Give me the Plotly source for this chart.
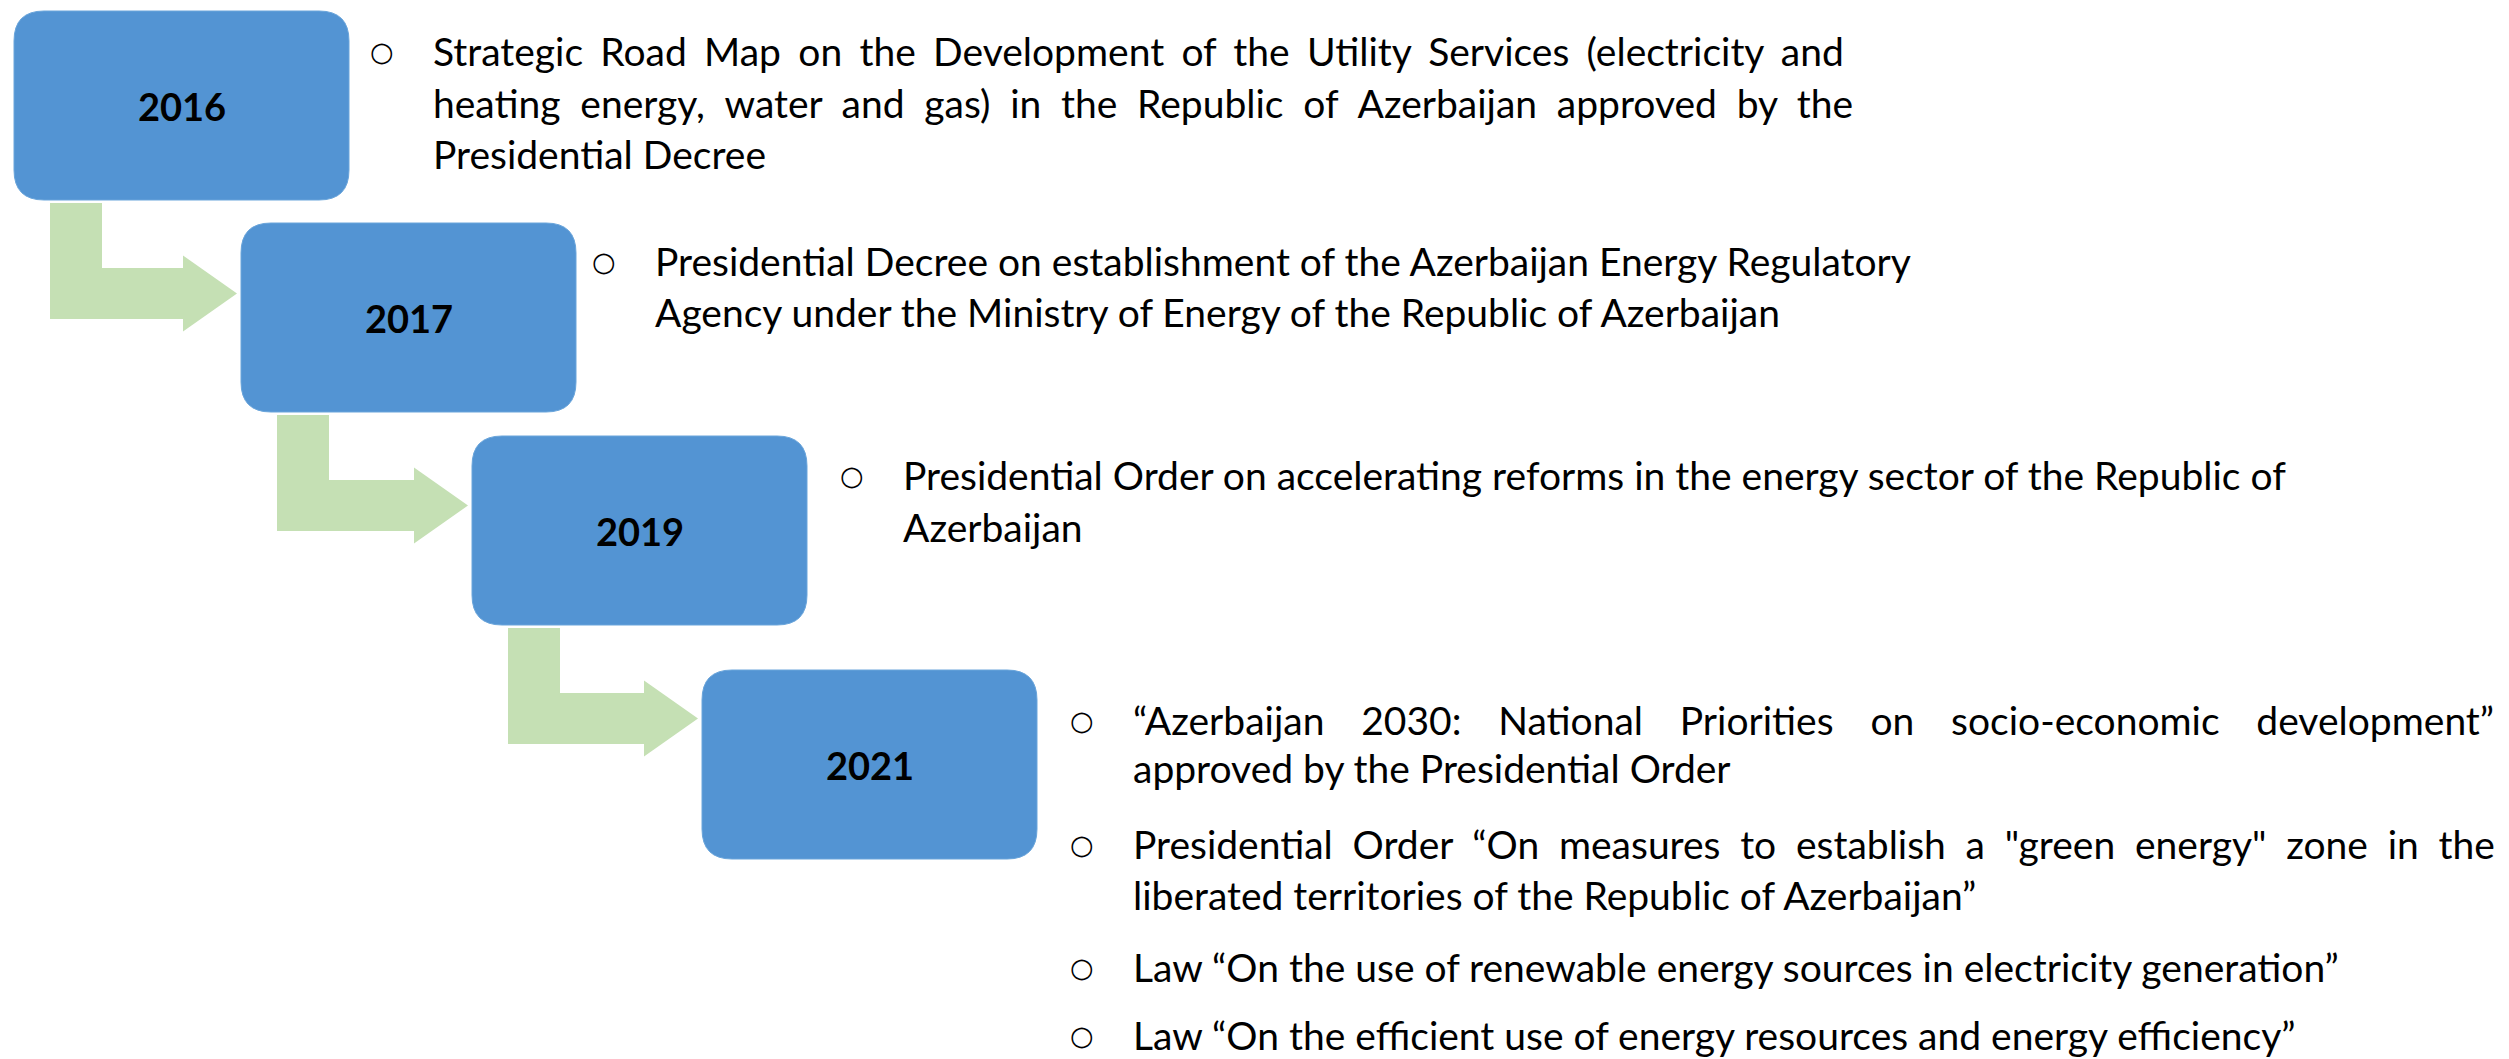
import plotly.graph_objects as go

# timeline data
years = ["2016", "2017", "2019", "2021"]

events_2016 = [
    ["Strategic Road Map on the Development of the Utility Services (electricity and",
     "heating energy, water and gas) in the Republic of Azerbaijan approved by the",
     "Presidential Decree"],
]
events_2017 = [
    ["Presidential Decree on establishment of the Azerbaijan Energy Regulatory",
     "Agency under the Ministry of Energy of the Republic of Azerbaijan"],
]
events_2019 = [
    ["Presidential Order on accelerating reforms in the energy sector of the Republic of",
     "Azerbaijan"],
]
events_2021 = [
    ["\u201cAzerbaijan 2030: National Priorities on socio-economic development\u201d",
     "approved by the Presidential Order"],
    ["Presidential Order \u201cOn measures to establish a \"green energy\" zone in the",
     "liberated territories of the Republic of Azerbaijan\u201d"],
    ["Law \u201cOn the use of renewable energy sources in electricity generation\u201d"],
    ["Law \u201cOn the efficient use of energy resources and energy efficiency\u201d"],
]
events = [events_2016, events_2017, events_2019, events_2021]

# extra spacing for the justified lines (same shape as events)
THIN, EN, HAIR = "\u2009", "\u2002", "\u200a"
justify = [
    [[THIN + HAIR, THIN + HAIR + HAIR, ""]],
    [["", ""]],
    [["", ""]],
    [[EN + THIN + HAIR, ""], [THIN + HAIR + HAIR, ""], [""], [""]],
]

# layout (pixels)
W, H = 2509, 1059
box_x0 = [14, 241, 472, 702]
box_y0 = [11, 223, 436, 670]
box_w, box_h, rad = 335, 189, 30
text_x = [432, 654, 902, 1132]
line_y = [
    [[51, 103, 154]],
    [[261, 312]],
    [[475, 527]],
    [[720, 768], [844, 895], [967], [1035]],
]

BLUE = "#5394D3"
GREEN = "#C5E0B4"
FONT = "Lato"


def rounded_rect(x0, y0, w, h, r):
    x1, y1 = x0 + w, y0 + h
    return (f"M {x0 + r},{y0} L {x1 - r},{y0} Q {x1},{y0} {x1},{y0 + r} "
            f"L {x1},{y1 - r} Q {x1},{y1} {x1 - r},{y1} L {x0 + r},{y1} "
            f"Q {x0},{y1} {x0},{y1 - r} L {x0},{y0 + r} Q {x0},{y0} {x0 + r},{y0} Z")


def elbow_arrow(sx, top, bar_top, head_x, tip, stem=52, bar=51, head=38):
    bar_bot = bar_top + bar
    mid = bar_top + bar / 2
    return (f"M {sx},{top} L {sx + stem},{top} L {sx + stem},{bar_top} "
            f"L {head_x},{bar_top} L {head_x},{mid - head} L {tip},{mid} "
            f"L {head_x},{mid + head} L {head_x},{bar_bot} L {sx},{bar_bot} Z")


fig = go.Figure()
shapes = []
annotations = []

for i, year in enumerate(years):
    x0, y0 = box_x0[i], box_y0[i]
    shapes.append(dict(type="path", path=rounded_rect(x0, y0, box_w, box_h, rad),
                       fillcolor=BLUE, line=dict(color="#6AA5DB", width=1), layer="above"))
    annotations.append(dict(x=x0 + box_w / 2, y=y0 + box_h / 2, text=f"<b>{year}</b>",
                            showarrow=False, font=dict(family=FONT, size=38, color="black"),
                            xanchor="center", yanchor="middle"))

    if i < len(years) - 1:
        bottom = y0 + box_h
        shapes.append(dict(type="path",
                           path=elbow_arrow(x0 + 36, bottom + 3, bottom + 68,
                                            box_x0[i + 1] - 58, box_x0[i + 1] - 4),
                           fillcolor=GREEN, line=dict(width=0), layer="below"))

    for item, ys, pads in zip(events[i], line_y[i], justify[i]):
        annotations.append(dict(x=text_x[i] - 50, y=ys[0], text="\u25cb", showarrow=False,
                                font=dict(family="DejaVu Sans", size=27, color="black"),
                                xanchor="center", yanchor="middle", borderpad=0))
        for line, y, pad in zip(item, ys, pads):
            annotations.append(dict(x=text_x[i], y=y, text=line.replace(" ", " " + pad),
                                    showarrow=False,
                                    font=dict(family=FONT, size=39, color="black"),
                                    xanchor="left", yanchor="middle", borderpad=0))

fig.update_layout(
    width=W, height=H,
    margin=dict(l=0, r=0, t=0, b=0),
    paper_bgcolor="white", plot_bgcolor="white",
    xaxis=dict(range=[0, W], visible=False, fixedrange=True),
    yaxis=dict(range=[H, 0], visible=False, fixedrange=True),
    shapes=shapes, annotations=annotations,
    showlegend=False,
)

fig.write_html("out.html", config={"displayModeBar": False},
               post_script="document.body.style.margin='0';")
